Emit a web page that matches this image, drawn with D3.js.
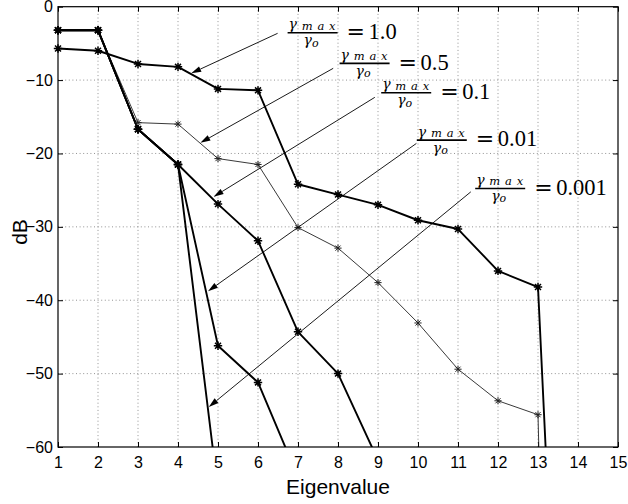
<!DOCTYPE html>
<html>
<head>
<meta charset="utf-8">
<script src="https://cdn.jsdelivr.net/npm/d3@7"></script>
<style>
  html, body { margin: 0; padding: 0; background: #fff; }
  svg { display: block; }
</style>
</head>
<body>
<svg id="chart" width="628" height="504"></svg>
<script>
// eigenvalue index (x) and dB values per gamma_max/gamma_o ratio
// (points past the bottom of the axes are clipped, like the original)
const eigen = [1, 2, 3, 4, 5, 6, 7, 8, 9, 10, 11, 12, 13, 14];
const ratio1 = [-5.7, -6.0, -7.8, -8.2, -11.2, -11.4, -24.2, -25.6, -27.0, -29.1, -30.3, -36.0, -38.2, -153];
const ratio05 = [-3.2, -3.2, -15.8, -16.0, -20.7, -21.5, -30.1, -32.9, -37.6, -43.1, -49.4, -53.7, -55.6, -276];
const ratio01 = [-3.2, -3.2, -16.7, -21.5, -26.9, -31.9, -44.3, -50.0, -61.8];
const ratio001 = [-3.2, -3.2, -16.7, -21.5, -46.2, -51.2, -64.1];
const ratio0001 = [-3.2, -3.2, -16.7, -21.5, -66];

const xTicks = d3.range(1, 16);
const yTicks = [0, -10, -20, -30, -40, -50, -60];

// annotation labels, in data coordinates
const labelValues = ["1.0", "0.5", "0.1", "0.01", "0.001"];
const labelAt = [[6.74, -3.55], [8.04, -7.72], [9.08, -11.73], [9.97, -18.18], [11.43, -24.77]];
const arrowFrom = [[6.49, -3.63], [7.88, -8.4], [8.92, -12.35], [9.96, -18.63], [11.32, -25.23]];
const arrowTo = [[4.33, -9.08], [4.56, -18.55], [4.89, -25.9], [4.75, -38.77], [4.77, -54.55]];

const seriesList = [
  { values: ratio1, width: 1.9, color: "#000", marker: 4.2, mw: 1.5 },
  { values: ratio05, width: 0.9, color: "#222", marker: 3.6, mw: 1.0 },
  { values: ratio01, width: 1.9, color: "#000", marker: 4.2, mw: 1.5 },
  { values: ratio001, width: 1.9, color: "#000", marker: 4.2, mw: 1.5 },
  { values: ratio0001, width: 1.9, color: "#000", marker: 4.2, mw: 1.5 },
];

const svg = d3.select("#chart");
const plotLeft = 58, plotRight = 618, plotTop = 6.7, plotBottom = 447;

const x = d3.scaleLinear().domain([1, 15]).range([plotLeft, plotRight]);
const y = d3.scaleLinear().domain([-60, 0]).range([plotBottom, plotTop]);

svg.append("rect").attr("width", 628).attr("height", 504).attr("fill", "#fff");

svg.append("clipPath").attr("id", "plotclip")
  .append("rect")
  .attr("x", plotLeft).attr("y", plotTop)
  .attr("width", plotRight - plotLeft).attr("height", plotBottom - plotTop);

// dotted grid
const grid = svg.append("g").attr("class", "grid")
  .attr("stroke", "#777").attr("stroke-width", 0.8).attr("stroke-dasharray", "1,2.6");
grid.selectAll("line.gx")
  .data(xTicks.slice(1, -1))
  .join("line").attr("class", "gx")
  .attr("x1", (d) => x(d)).attr("x2", (d) => x(d))
  .attr("y1", plotTop).attr("y2", plotBottom);
grid.selectAll("line.gy")
  .data(yTicks.slice(1, -1))
  .join("line").attr("class", "gy")
  .attr("x1", plotLeft).attr("x2", plotRight)
  .attr("y1", (d) => y(d)).attr("y2", (d) => y(d));

// axes, ticks pointing inwards on all four sides
const tickFont = (g) => {
  g.select(".domain").remove();
  g.selectAll("line").attr("stroke", "#000").attr("stroke-width", 1);
  g.selectAll("text").attr("font-family", "'Liberation Sans', Arial, sans-serif")
    .attr("font-size", 16).attr("fill", "#000");
};
svg.append("g").attr("transform", `translate(0,${plotBottom})`)
  .call(d3.axisBottom(x).tickValues(xTicks).tickFormat(d3.format("d")).tickSize(-5).tickPadding(9.7))
  .call(tickFont);
svg.append("g").attr("transform", `translate(0,${plotTop})`)
  .call(d3.axisTop(x).tickValues(xTicks).tickFormat("").tickSize(-5))
  .call(tickFont);
svg.append("g").attr("transform", `translate(${plotLeft},0)`)
  .call(d3.axisLeft(y).tickValues(yTicks).tickFormat(d3.format("d")).tickSize(-5).tickPadding(5))
  .call(tickFont);
svg.append("g").attr("transform", `translate(${plotRight},0)`)
  .call(d3.axisRight(y).tickValues(yTicks).tickFormat("").tickSize(-5))
  .call(tickFont);

// lines
const line = d3.line().x((d, i) => x(eigen[i])).y((d) => y(d));
const lineG = svg.append("g").attr("clip-path", "url(#plotclip)");
seriesList.forEach((s) => {
  lineG.append("path")
    .datum(s.values)
    .attr("d", line)
    .attr("fill", "none")
    .attr("stroke", s.color)
    .attr("stroke-width", s.width)
    .attr("stroke-linejoin", "round");
});

// asterisk markers
const markG = svg.append("g");
seriesList.forEach((s) => {
  const pts = s.values.map((v, i) => [eigen[i], v]).filter((p) => p[1] >= -60);
  const r = s.marker;
  const d = r * Math.SQRT1_2;
  markG.selectAll(null)
    .data(pts)
    .join("path")
    .attr("transform", (p) => `translate(${x(p[0])},${y(p[1])})`)
    .attr("d", `M${-r},0H${r}M0,${-r}V${r}M${-d},${-d}L${d},${d}M${-d},${d}L${d},${-d}`)
    .attr("stroke", s.color)
    .attr("stroke-width", s.mw)
    .attr("fill", "none");
});

// frame
svg.append("rect")
  .attr("x", plotLeft).attr("y", plotTop)
  .attr("width", plotRight - plotLeft).attr("height", plotBottom - plotTop)
  .attr("fill", "none").attr("stroke", "#000").attr("stroke-width", 1.2);

// arrows
const arrowG = svg.append("g");
arrowFrom.forEach((from, i) => {
  const x0 = x(from[0]), y0 = y(from[1]);
  const x1 = x(arrowTo[i][0]), y1 = y(arrowTo[i][1]);
  const ang = Math.atan2(y1 - y0, x1 - x0);
  const len = 10, half = 3;
  const bx = x1 - len * Math.cos(ang), by = y1 - len * Math.sin(ang);
  arrowG.append("line")
    .attr("x1", x0).attr("y1", y0).attr("x2", bx).attr("y2", by)
    .attr("stroke", "#000").attr("stroke-width", 0.9);
  arrowG.append("path")
    .attr("d", `M${x1},${y1}L${bx - half * Math.sin(ang)},${by + half * Math.cos(ang)}L${bx + half * Math.sin(ang)},${by - half * Math.cos(ang)}Z`)
    .attr("fill", "#000");
});

// gamma_max / gamma_o = value labels
const barLen = 50;
const labelG = svg.append("g");
labelAt.forEach((p, i) => {
  const bx = x(p[0]), by = y(p[1]);
  const g = labelG.append("g");
  const num = g.append("text")
    .attr("x", bx + 1).attr("y", by - 3.5)
    .attr("font-family", "'DejaVu Serif', serif").attr("font-style", "italic")
    .attr("textLength", 47).attr("lengthAdjust", "spacing");
  num.append("tspan").attr("font-size", 14).text("γ");
  num.append("tspan").attr("font-size", 11.5).attr("dy", 0.5).text("max");
  g.append("line")
    .attr("x1", bx).attr("x2", bx + barLen).attr("y1", by).attr("y2", by)
    .attr("stroke", "#000").attr("stroke-width", 1.6);
  const den = g.append("text")
    .attr("x", bx + barLen / 2 - 1.5).attr("y", by + 12.5)
    .attr("text-anchor", "middle")
    .attr("font-family", "'DejaVu Serif', serif").attr("font-style", "italic");
  den.append("tspan").attr("font-size", 14).text("γ");
  den.append("tspan").attr("font-size", 11).attr("dy", 1.5).text("o");
  g.append("text")
    .attr("x", bx + barLen + 9).attr("y", by + 6.3)
    .attr("font-family", "'DejaVu Serif', serif").attr("font-size", 22)
    .text("=");
  g.append("text")
    .attr("x", bx + barLen + 31).attr("y", by + 6.3)
    .attr("font-family", "'Liberation Serif', 'Times New Roman', serif").attr("font-size", 22.5)
    .text(labelValues[i]);
});

// axis titles
svg.append("text")
  .attr("x", (plotLeft + plotRight) / 2).attr("y", 494)
  .attr("text-anchor", "middle")
  .attr("font-family", "'Liberation Sans', Arial, sans-serif").attr("font-size", 21)
  .text("Eigenvalue");
svg.append("text")
  .attr("transform", `translate(26.5,${232}) rotate(-90)`)
  .attr("text-anchor", "middle")
  .attr("font-family", "'Liberation Sans', Arial, sans-serif").attr("font-size", 21)
  .text("dB");
</script>
</body>
</html>
